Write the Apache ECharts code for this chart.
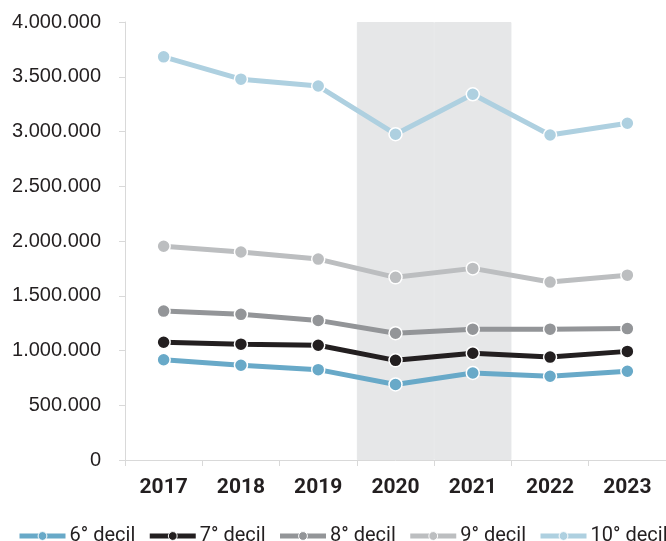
<!DOCTYPE html>
<html>
<head>
<meta charset="utf-8">
<script src="https://cdn.jsdelivr.net/npm/echarts@6/dist/echarts.min.js"></script>
<style>html,body{margin:0;padding:0;background:#fff}#c{width:666px;height:541px}</style>
</head>
<body>
<div id="c"></div>
<script>
var years = ['2017','2018','2019','2020','2021','2022','2023'];
var yTicks = [0, 500000, 1000000, 1500000, 2000000, 2500000, 3000000, 3500000, 4000000];
var d6  = [915000, 865000, 825000, 690000, 795000, 765000, 810000];
var d7  = [1075000, 1058000, 1048000, 910000, 975000, 940000, 992000];
var d8  = [1360000, 1330000, 1275000, 1158000, 1195000, 1195000, 1200000];
var d9  = [1952000, 1900000, 1835000, 1668000, 1750000, 1625000, 1688000];
var d10 = [3682000, 3478000, 3415000, 2975000, 3340000, 2968000, 3075000];
var covidBand = ['-', '-', '-', 4000000, 4000000, '-', '-'];
var names = ['6° decil','7° decil','8° decil','9° decil','10° decil'];
var colors = ['#68a9c8','#231f20','#939598','#bcbec0','#aed0e0'];
var seriesData = [d6, d7, d8, d9, d10];

function fmt(v){
  return String(v).replace(/\B(?=(\d{3})+(?!\d))/g, '.');
}

var series = [{
  name: 'band', type: 'bar', data: covidBand, barCategoryGap: '0%', barGap: '0%',
  itemStyle: { color: '#e6e7e8', borderColor: '#e6e7e8', borderWidth: 1 }, silent: true, z: 1
}];
for (var i = 0; i < names.length; i++) {
  series.push({
    name: names[i], type: 'line', data: seriesData[i],
    symbol: 'circle', symbolSize: 13,
    lineStyle: { width: 5, color: colors[i] },
    itemStyle: { color: colors[i], borderColor: '#ffffff', borderWidth: 1.5 },
    z: 3 + i
  });
}

var chart = echarts.init(document.getElementById('c'), null, { renderer: 'canvas' });
chart.setOption({
  animation: false,
  backgroundColor: '#ffffff',
  grid: { left: 125, top: 22, bottom: 81, right: 0, containLabel: false },
  legend: {
    data: names, top: 526, left: 17, width: 900, padding: 0,
    itemWidth: 46, itemHeight: 11, itemGap: 12,
    lineStyle: { width: 5 },
    itemStyle: { borderColor: '#ffffff', borderWidth: 1 },
    textStyle: { fontSize: 20, color: '#231f20', fontFamily: 'Roboto', padding: [0, 0, 0, -1] }
  },
  xAxis: {
    type: 'category', data: years, boundaryGap: true,
    axisLine: { lineStyle: { color: '#d9d9d9', width: 1 } },
    axisTick: { show: true, length: 6, lineStyle: { color: '#d9d9d9' } },
    axisLabel: { fontSize: 21, fontWeight: 'bold', color: '#231f20', margin: 17, fontFamily: 'Roboto' }
  },
  yAxis: {
    type: 'value', min: 0, max: 4000000, interval: 500000,
    axisLine: { show: true, lineStyle: { color: '#d9d9d9', width: 1 } },
    axisTick: { show: true, length: 6, lineStyle: { color: '#d9d9d9' } },
    splitLine: { show: false },
    axisLabel: { fontSize: 20, color: '#231f20', margin: 24, fontFamily: 'Liberation Sans',
      formatter: function(v){ return fmt(v); } }
  },
  series: series
});
</script>
</body>
</html>
